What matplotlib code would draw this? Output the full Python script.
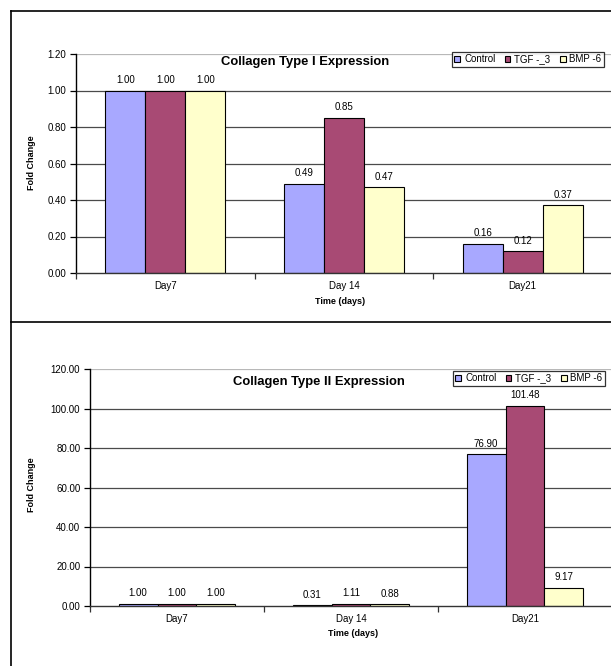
import matplotlib
matplotlib.use("Agg")
import matplotlib.pyplot as plt
import numpy as np

plt.rcParams['font.family'] = ['Liberation Sans', 'DejaVu Sans']

days = ["Day7", "Day 14", "Day21"]
series = ["Control", "TGF -_3", "BMP -6"]
colors = ["#A8A8FF", "#A84A74", "#FFFFCC"]

col1_control = [1.00, 0.49, 0.16]
col1_tgf = [1.00, 0.85, 0.12]
col1_bmp = [1.00, 0.47, 0.37]

col2_control = [1.00, 0.31, 76.90]
col2_tgf = [1.00, 1.11, 101.48]
col2_bmp = [1.00, 0.88, 9.17]

W, H = 611, 666
fig = plt.figure(figsize=(W / 100, H / 100), dpi=100)


def fx(x):
    return x / W


def fy(y):
    return 1 - y / H


# chart-object frames
fig.add_artist(plt.Line2D([fx(10.5), fx(10.5)], [fy(10.5), fy(666)], color="black", lw=1.2))
fig.add_artist(plt.Line2D([fx(10.5), 1.0], [fy(10.5), fy(10.5)], color="black", lw=1.2))
fig.add_artist(plt.Line2D([fx(10.5), 1.0], [fy(322), fy(322)], color="black", lw=1.2))


def draw_panel(rect, vals, ymax, ystep, title, title_xy, ylab_xy, xlab_xy, leg_xy):
    ax = fig.add_axes(rect)
    x = np.arange(len(days)) + 0.5
    w = 0.224
    for i, (v, c) in enumerate(zip(vals, colors)):
        xs = x + (i - 1) * w
        bars = ax.bar(xs, v, width=w, color=c, edgecolor="black", linewidth=0.8,
                      label=series[i], zorder=3)
        for b, val in zip(bars, v):
            ax.annotate(f"{val:.2f}", (b.get_x() + b.get_width() / 2, val),
                        xytext=(0, 4), textcoords="offset points",
                        ha="center", va="bottom", fontsize=7, zorder=4)
    ax.set_xlim(0, 3)
    ax.set_ylim(0, ymax)
    yt = np.arange(0, ymax + ystep / 2, ystep)
    ax.set_yticks(yt)
    ax.set_yticklabels([f"{t:.2f}" for t in yt], fontsize=7)
    for t in yt[1:-1]:
        ax.axhline(t, color="#4a4a4a", lw=0.9, zorder=1)
    ax.axhline(yt[-1], color="#b8b8b8", lw=0.9, zorder=1)
    ax.set_xticks([0, 1, 2, 3])
    ax.set_xticklabels([])
    ax.set_xticks(x, minor=True)
    ax.set_xticklabels(days, minor=True, fontsize=7)
    ax.tick_params(axis="x", which="minor", length=0, pad=6)
    ax.tick_params(axis="x", which="major", length=4, width=0.9, color="#333333")
    ax.tick_params(axis="y", length=4, width=0.9, pad=3)
    for s in ["top", "right"]:
        ax.spines[s].set_visible(False)
    ax.spines["left"].set_linewidth(1.0)
    ax.spines["bottom"].set_linewidth(1.0)
    ax.spines["bottom"].set_color("#333333")
    ax.spines["bottom"].set_zorder(5)
    fig.text(fx(title_xy[0]), fy(title_xy[1]), title, ha="center", va="center",
             fontsize=9.4, fontweight="bold")
    fig.text(fx(ylab_xy[0]), fy(ylab_xy[1]), "Fold Change", ha="center", va="center",
             rotation=90, fontsize=6.5, fontweight="bold")
    fig.text(fx(xlab_xy[0]), fy(xlab_xy[1]), "Time (days)", ha="center", va="center",
             fontsize=6.5, fontweight="bold")
    leg = ax.legend(loc="upper left", bbox_to_anchor=(fx(leg_xy[0]), fy(leg_xy[1])),
                    bbox_transform=fig.transFigure, ncol=3, fontsize=7,
                    frameon=True, fancybox=False, edgecolor="black",
                    handlelength=0.6, handleheight=0.6, handletextpad=0.4,
                    columnspacing=0.95, borderpad=0.25, borderaxespad=0)
    leg.get_frame().set_linewidth(0.9)
    leg.set_zorder(6)
    return ax


draw_panel([fx(76), fy(273), fx(612 - 76), (273 - 54) / H],
           [col1_control, col1_tgf, col1_bmp], 1.2, 0.2,
           "Collagen Type I Expression", (305, 62), (31, 163), (340, 301), (452, 52))

draw_panel([fx(90), fy(606), fx(612 - 90), (606 - 369) / H],
           [col2_control, col2_tgf, col2_bmp], 120, 20,
           "Collagen Type II Expression", (319, 382), (31, 485), (353, 634), (453, 371))

fig.savefig("out.png", dpi=100)
